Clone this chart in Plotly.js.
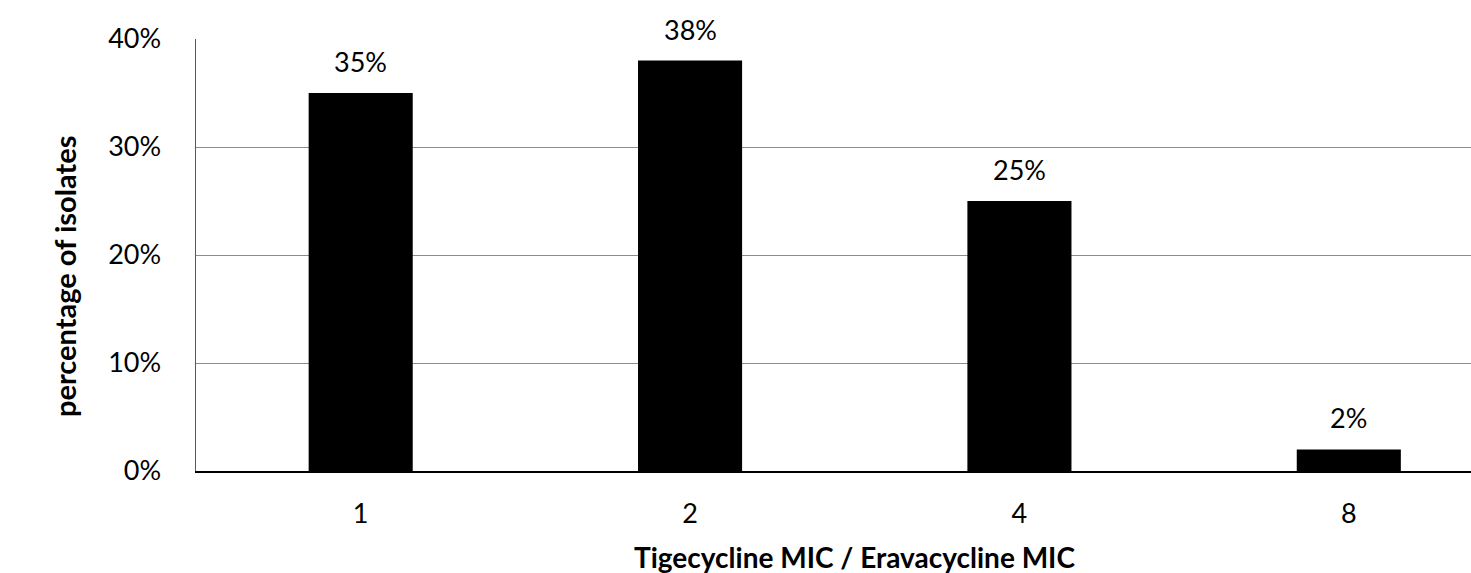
<!DOCTYPE html>
<html>
<head>
<meta charset="utf-8">
<script src="https://cdn.plot.ly/plotly-3.0.1.min.js"></script>
<style>
  html, body { margin: 0; padding: 0; background: #ffffff; }
  #chart { width: 1471px; height: 573px; }
</style>
</head>
<body>
<div id="chart"></div>
<script>
// MIC ratio categories and share of isolates (%)
const ratioLabels = ['1', '2', '4', '8'];
const isolatePct = [35, 38, 25, 2];
const yTicks = [0, 10, 20, 30, 40];
const xTitle = 'Tigecycline MIC / Eravacycline MIC';
const yTitle = 'percentage of isolates';

const FONT = 'Lato, "Open Sans", sans-serif';

const trace = {
  type: 'bar',
  x: ratioLabels,
  y: isolatePct,
  width: 0.316,
  marker: { color: '#000000', line: { width: 0 } },
  hoverinfo: 'x+y'
};

// value labels above each bar (x given as category index)
const valueLabels = isolatePct.map((v, i) => ({
  x: i,
  y: v,
  xref: 'x',
  yref: 'y',
  text: v + '%',
  showarrow: false,
  yanchor: 'bottom',
  yshift: 13,
  font: { family: FONT, size: 27, color: '#000000' }
}));

// axis titles
const titleNotes = [
  {
    x: 1.5, xref: 'x',
    y: 0, yref: 'paper',
    yanchor: 'middle',
    yshift: -86,
    text: '<b>' + xTitle + '</b>',
    showarrow: false,
    font: { family: FONT, size: 28, color: '#000000' }
  },
  {
    x: 0, xref: 'paper',
    y: 0.5, yref: 'paper',
    xanchor: 'center',
    xshift: -132,
    yshift: -22,
    textangle: -90,
    text: '<b>' + yTitle + '</b>',
    showarrow: false,
    font: { family: FONT, size: 29, color: '#000000' }
  }
];

const layout = {
  width: 1471,
  height: 573,
  margin: { l: 196, r: 0, t: 39, b: 102 },
  paper_bgcolor: '#ffffff',
  plot_bgcolor: '#ffffff',
  showlegend: false,
  font: { family: FONT, size: 27, color: '#000000' },
  xaxis: {
    type: 'category',
    range: [-0.5, 3.371],
    showline: true,
    linecolor: '#000000',
    linewidth: 2,
    showgrid: false,
    zeroline: false,
    ticks: '',
    ticklabelstandoff: 18,
    tickfont: { family: FONT, size: 27, color: '#000000' },
    automargin: false
  },
  yaxis: {
    range: [0, 40],
    tickvals: yTicks,
    ticktext: yTicks.map(v => v + '%'),
    showline: true,
    linecolor: '#595959',
    linewidth: 1.5,
    showgrid: true,
    gridcolor: '#8c8c8c',
    gridwidth: 1,
    zeroline: false,
    ticks: '',
    ticklabelstandoff: 28,
    tickfont: { family: FONT, size: 27, color: '#000000' },
    automargin: false
  },
  annotations: valueLabels.concat(titleNotes)
};

Plotly.newPlot('chart', [trace], layout, { displayModeBar: false, staticPlot: true });
</script>
</body>
</html>
